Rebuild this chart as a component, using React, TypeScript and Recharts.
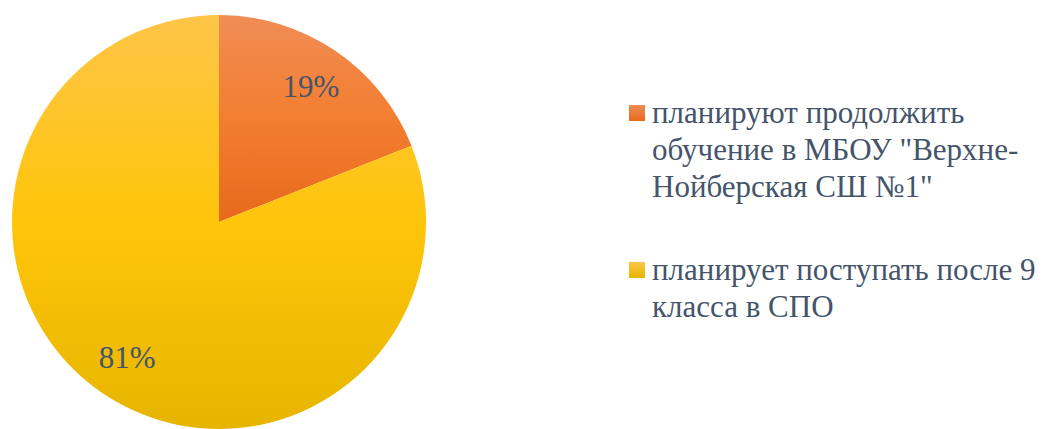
import { Cell, Legend, Pie, PieChart } from "recharts";

const categories = [
  'планируют продолжить обучение в МБОУ "Верхне-Нойберская СШ №1"',
  "планирует поступать после 9 класса в СПО",
];
const shares = [19, 81];
const percentLabels = ["19%", "81%"];

const data = categories.map((name, i) => ({ name, value: shares[i], label: percentLabels[i] }));

const gradients = [
  { id: "gOrange", top: "#F08D55", mid: "#F37E30", bottom: "#E8691C" },
  { id: "gYellow", top: "#FEC548", mid: "#FFC50A", bottom: "#E6B500" },
];

const FONT = "Times";
const RAD = Math.PI / 180;

function renderLabel(props: any) {
  const { cx, cy, midAngle, outerRadius, index } = props;
  const r = outerRadius * 0.79;
  const x = cx + r * Math.cos(-midAngle * RAD);
  const y = cy + r * Math.sin(-midAngle * RAD);
  return (
    <text
      x={x}
      y={y}
      fill="#44546A"
      textAnchor="middle"
      dominantBaseline="central"
      fontFamily={FONT}
      fontSize={31}
    >
      {data[index].label}
    </text>
  );
}

function LegendBox() {
  return (
    <div style={{ fontFamily: FONT, fontSize: 31, lineHeight: "37px", color: "#44546A" }}>
      {data.map((d, i) => (
        <div key={d.name} style={{ display: "flex", marginBottom: i === 0 ? 46 : 0 }}>
          <div
            style={{
              width: 16,
              height: 16,
              marginTop: 11,
              marginRight: 7,
              flex: "0 0 16px",
              background: `linear-gradient(${gradients[i].top}, ${gradients[i].bottom})`,
            }}
          />
          <div>{d.name}</div>
        </div>
      ))}
    </div>
  );
}

export default function App() {
  return (
    <div
      style={{
        position: "absolute",
        left: 0,
        top: 0,
        width: 1048,
        height: 429,
        background: "#fff",
        fontFamily: FONT,
      }}
    >
      <PieChart width={1048} height={429} margin={{ top: 0, right: 0, bottom: 0, left: 0 }}>
        <defs>
          {gradients.map((g) => (
            <linearGradient key={g.id} id={g.id} x1="0" y1="0" x2="0" y2="1">
              <stop offset="0%" stopColor={g.top} />
              <stop offset="50%" stopColor={g.mid} />
              <stop offset="100%" stopColor={g.bottom} />
            </linearGradient>
          ))}
        </defs>
        <Pie
          data={data}
          dataKey="value"
          nameKey="name"
          cx={219}
          cy={222}
          outerRadius={207}
          startAngle={90}
          endAngle={-270}
          stroke="none"
          label={renderLabel}
          labelLine={false}
          isAnimationActive={false}
        >
          {data.map((d, i) => (
            <Cell key={d.name} fill={`url(#${gradients[i].id})`} />
          ))}
        </Pie>
        <Legend
          content={() => <LegendBox />}
          wrapperStyle={{ left: 629, top: 94, width: 419, bottom: "auto" }}
        />
      </PieChart>
    </div>
  );
}
